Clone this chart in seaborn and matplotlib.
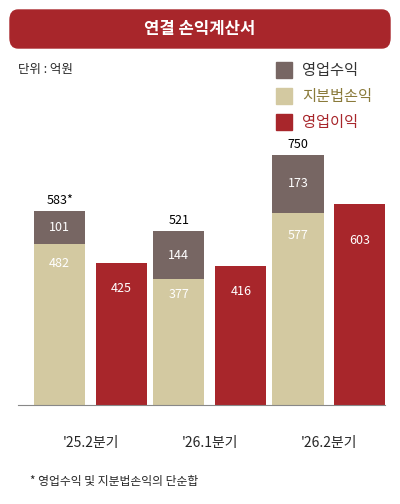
import matplotlib
matplotlib.use("Agg")
import matplotlib.pyplot as plt
from matplotlib.patches import FancyBboxPatch, Rectangle
import seaborn as sns
import numpy as np

categories = ["'25.2분기", "'26.1분기", "'26.2분기"]
equity_income = [482, 377, 577]
op_revenue_extra = [101, 144, 173]
op_profit = [425, 416, 603]
totals = ["583*", "521", "750"]

sns.set_theme(style="white")
plt.rcParams['font.family'] = ['Noto Sans CJK KR', 'DejaVu Sans']

C_BROWN = "#776663"
C_BEIGE = "#d3c9a1"
C_RED = "#a8262b"

fig = plt.figure(figsize=(4, 5.04), dpi=100)
W, H = 400, 504
ax = fig.add_axes([18/W, 99/H, 367/W, 300/H])
x = np.arange(len(categories))
w = 0.43
ax.bar(x - 0.26, equity_income, w, color=C_BEIGE, linewidth=0)
ax.bar(x - 0.26, op_revenue_extra, w, bottom=equity_income, color=C_BROWN, linewidth=0)
ax.bar(x + 0.26, op_profit, w, color=C_RED, linewidth=0)
for i in range(len(x)):
    ax.text(x[i]-0.26, equity_income[i]*0.88, str(equity_income[i]), ha='center', va='center', color='white', fontsize=9)
    ax.text(x[i]-0.26, equity_income[i]+op_revenue_extra[i]/2, str(op_revenue_extra[i]), ha='center', va='center', color='white', fontsize=9)
    ax.text(x[i]+0.26, op_profit[i]*0.82, str(op_profit[i]), ha='center', va='center', color='white', fontsize=9)
    ax.text(x[i]-0.26, equity_income[i]+op_revenue_extra[i]+12, totals[i], ha='center', va='bottom', color='black', fontsize=9)
ax.set_xlim(-0.61, 2.47)
ax.set_ylim(0, 900)
ax.set_xticks(x)
ax.set_xticklabels(categories, fontsize=10)
ax.tick_params(axis='x', length=0, pad=22)
ax.set_yticks([])
for s in ['top', 'left', 'right']:
    ax.spines[s].set_visible(False)
ax.spines['bottom'].set_color('#888888')
ax.spines['bottom'].set_linewidth(0.8)

# banner
fig.patches.append(FancyBboxPatch((10/W, (H-48)/H), 380/W, 38/H, boxstyle="round,pad=0,rounding_size=0.02",
                                  transform=fig.transFigure, color=C_RED))
fig.text(0.5, (H-29)/H, "연결 손익계산서", ha='center', va='center', color='white', fontsize=12, fontweight='bold')
fig.text(18/W, (H-70)/H, "단위 : 억원", ha='left', va='center', fontsize=9)

# legend
for j, (lab, c, lc) in enumerate([("영업수익", C_BROWN, '#333333'), ("지분법손익", C_BEIGE, '#8a7a3a'), ("영업이익", C_RED, C_RED)]):
    yc = 70 + j*26
    fig.patches.append(Rectangle((276/W, (H-yc-8)/H), 16/W, 16/H, transform=fig.transFigure, color=c))
    fig.text(302/W, (H-yc)/H, lab, ha='left', va='center', fontsize=11, color=lc)

fig.text(30/W, (H-482)/H, "* 영업수익 및 지분법손익의 단순합", ha='left', va='center', fontsize=8.5)
fig.savefig("out.png", dpi=100)
